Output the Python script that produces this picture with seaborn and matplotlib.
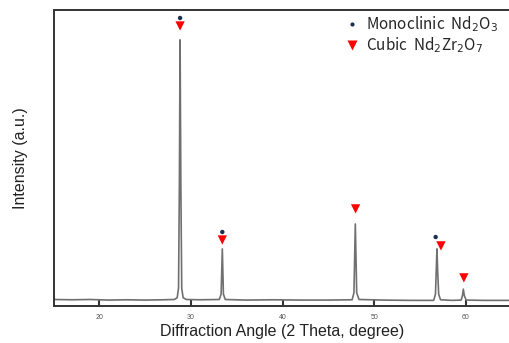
"""
XRD pattern: Monoclinic Nd2O3 / Cubic Nd2Zr2O7
"""

import numpy as np
import pandas as pd
import matplotlib
matplotlib.use('Agg')
import matplotlib.pyplot as plt
import seaborn as sns

# trace (2 theta, intensity a.u.)
two_theta = [15.0, 17.0, 19.0, 21.0, 23.0, 25.0, 27.0, 28.2, 28.5, 28.65, 28.74, 28.82,
             28.9, 29.0, 29.15, 29.5, 31.0, 33.1, 33.3, 33.43, 33.55, 33.75, 36.0,
             39.0, 42.0, 45.0, 47.6, 47.8, 47.95, 48.1, 48.35, 51.0, 54.0, 56.5,
             56.7, 56.86, 56.95, 57.05, 57.25, 58.5, 59.5, 59.65, 59.74, 59.85,
             60.05, 62.0, 65.0]
intensity = [22, 21, 22, 20, 21, 20, 21, 22, 28, 60, 400, 899,
             420, 60, 28, 22, 21, 22, 40, 193, 40, 22, 20,
             21, 20, 20, 21, 45, 277, 45, 22, 20, 19, 19,
             40, 193, 110, 40, 21, 19, 20, 35, 57, 35,
             20, 19, 19]

# phase markers
mono_x = [28.82, 33.43, 56.72]
mono_y = [973, 250, 233]
cubic_x = [28.82, 33.43, 47.98, 57.3, 59.8]
cubic_y = [946, 223, 328, 203, 95]

sns.set_style('ticks')
plt.rcParams['font.family'] = ['Liberation Sans', 'DejaVu Sans']

fig = plt.figure(figsize=(5.09, 3.43), dpi=100)
W, H = 509, 343
ax = fig.add_axes([53.5 / W, 1 - 306 / H, 458 / W, 296 / H])

trace = pd.DataFrame({'x': two_theta, 'y': intensity})
sns.lineplot(data=trace, x='x', y='y', ax=ax, color='#707070', linewidth=1.2,
             sort=False, estimator=None)

sns.scatterplot(x=mono_x, y=mono_y, ax=ax, marker='o', s=10, color='#1c2f4f',
                edgecolor='none', zorder=5)
sns.scatterplot(x=cubic_x, y=cubic_y, ax=ax, marker='v', s=45, color='#ff0000',
                edgecolor='none', zorder=5)

ax.set_xlim(15, 65)
ax.set_ylim(0, 1000)
ax.set_xticks([20, 30, 40, 50, 60])
ax.set_yticks([])
ax.tick_params(axis='x', direction='in', length=4, width=1.5, color='#333333',
               labelsize=5, labelcolor='#555555', pad=6)
for side in ['left', 'top', 'bottom', 'right']:
    ax.spines[side].set_linewidth(1.4)
    ax.spines[side].set_color('#333333')

ax.set_xlabel('Diffraction Angle (2 Theta, degree)', fontsize=11.5, color='#222222', labelpad=2)
ax.set_ylabel('Intensity (a.u.)', fontsize=11.5, color='#222222', labelpad=18)

# legend
h1 = plt.Line2D([], [], marker='o', linestyle='none', markersize=3,
                markerfacecolor='#1c2f4f', markeredgecolor='none')
h2 = plt.Line2D([], [], marker='v', linestyle='none', markersize=6.5,
                markerfacecolor='#ff0000', markeredgecolor='none')
fig.legend([h1, h2], ['Monoclinic  Nd$_2$O$_3$', 'Cubic  Nd$_2$Zr$_2$O$_7$'],
           loc='upper left', bbox_to_anchor=(331 / W, 1 - 1 / H), frameon=False,
           handletextpad=0.4, labelspacing=0.05, handlelength=1.0,
           prop={'family': ['Noto Sans CJK KR', 'DejaVu Sans'], 'size': 11})

plt.savefig('out.png', dpi=100)
plt.close()
